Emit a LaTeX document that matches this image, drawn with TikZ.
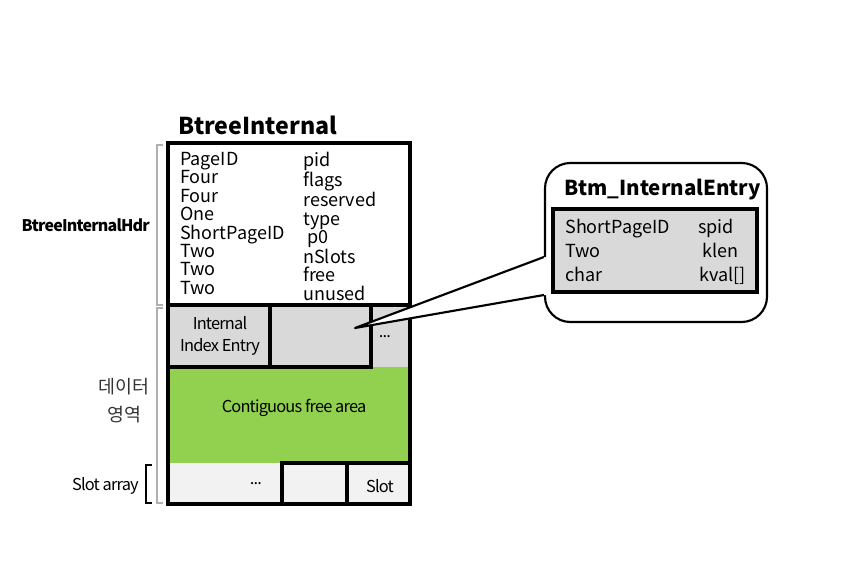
\documentclass[tikz,border=0pt]{standalone}
\usepackage{fontspec}
\setmainfont{Noto Sans CJK KR}
\newfontfamily\narrowfont[LetterSpace=-5]{Noto Sans CJK KR}
\usetikzlibrary{calc}
\definecolor{entrygray}{RGB}{217,217,217}
\definecolor{slotgray}{RGB}{242,242,242}
\definecolor{freegreen}{RGB}{146,208,80}
\definecolor{bracketgray}{RGB}{175,175,175}
\tikzset{
	pageline/.style={line width=2.6pt},
	fieldtext/.style={anchor=north west, inner sep=0pt, align=left, font=\fontsize{13.5}{13.8}\selectfont},
	entrytext/.style={anchor=base west, inner sep=0pt, font=\fontsize{13.5}{18}\selectfont},
	smalltext/.style={inner sep=0pt, align=center, font=\narrowfont\fontsize{12.3}{17}\selectfont}
}
\begin{document}
\begin{tikzpicture}[x=0.75pt,y=-0.75pt]
			\useasboundingbox (0,0) rectangle (848,563);
			\fill[entrygray] (168,305) rectangle (410,368);
			\fill[freegreen] (168,367) rectangle (410,463);
			\fill[slotgray] (168,463) rectangle (410,504);
			\draw[pageline] (168,305) rectangle (270,367);
			\draw[pageline] (270,305) rectangle (371,367);
			\draw[pageline] (282,504) -- (282,463) -- (410,463);
			\draw[pageline] (347,463) -- (347,504);
			\draw[pageline] (168,143) rectangle (410,504);
			\draw[pageline] (168,305) -- (410,305);
			\draw[bracketgray, line width=1.3pt]
				(163,145) -- (157,145) -- (157,305) -- (163,305);
			\draw[bracketgray, line width=1.3pt]
				(163,308) -- (157,308) -- (157,503) -- (163,503);
			\draw[line width=0.8pt]
				(152,465) -- (146,465) -- (146,503) -- (152,503);
			\node[anchor=west, inner sep=0pt, font=\bfseries\fontsize{17.4}{20}\selectfont] (pagetitle) at (178,125) {BtreeInternal};
			\node[fieldtext] (hdrtypes) at (180,152) {PageID\\Four\\Four\\One\\ShortPageID\\Two\\Two\\Two};
			\node[fieldtext] (hdrfields) at (303,152) {pid\\flags\\reserved\\type\\\hspace{3pt}p0\\nSlots\\free\\unused};
			\node[smalltext, anchor=east, font=\narrowfont\bfseries\fontsize{12}{14}\selectfont] (hdrlabel) at (150,225) {BtreeInternalHdr};
			\node[smalltext, text=black!80, font=\fontsize{13.8}{21}\selectfont] (datalabel) at (124,401) {데이터\\영역};
			\node[smalltext, anchor=east] (slotlabel) at (139,486) {Slot array};
			\node[smalltext] (idxentry) at (220,336) {Internal\\Index Entry};
			\node[smalltext] (entrydots) at (385,337) {...};
			\node[smalltext] (freearea) at (294,408) {Contiguous free area};
			\node[smalltext] (slotdots) at (256,484) {...};
			\node[smalltext] (slotcell) at (380,486) {Slot};
			\coordinate (entrytip) at (355,328);
			\node[draw, line width=1.6pt, rounded corners=19pt, fill=white, minimum width=166.5pt, minimum height=119.25pt] (bubble) at (656,242.5) {};
			\fill[white] (entrytip) -- ($(bubble.west)+(0,14.5)$) -- ($(bubble.west)+(4,14.5)$) -- ($(bubble.west)+(4,52.5)$) -- ($(bubble.west)+(0,52.5)$) -- cycle;
			\draw[line width=1.6pt, line join=round]
				($(bubble.west)+(0,14.5)$) -- (entrytip) -- ($(bubble.west)+(0,52.5)$);
			\node[anchor=west, inner sep=0pt, font=\bfseries\fontsize{15.4}{18}\selectfont] (bubbletitle) at (564,190) {Btm\_InternalEntry};
			\draw[line width=3pt, fill=entrygray] (553,209) rectangle (757,292);
			\node[entrytext] (spidtype) at (565,233) {ShortPageID};
			\node[entrytext] (klentype) at (565,257) {Two};
			\node[entrytext] (kvaltype) at (565,281) {char};
			\node[entrytext] (spidfield) at (698,233) {spid};
			\node[entrytext] (klenfield) at (702,257) {klen};
			\node[entrytext] (kvalfield) at (699,281) {kval[]};
		\end{tikzpicture}
\end{document}
